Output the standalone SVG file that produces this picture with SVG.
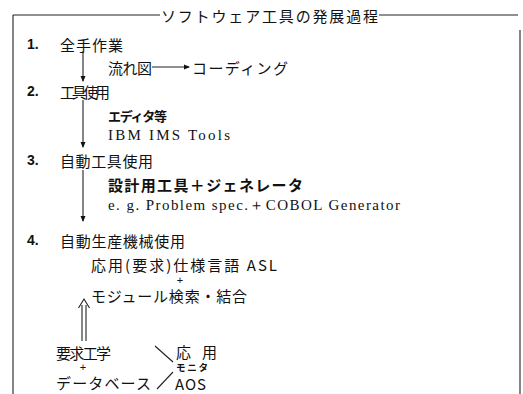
<svg xmlns="http://www.w3.org/2000/svg" width="523" height="394" viewBox="0 0 523 394">
<defs>
<marker id="ah" markerWidth="6" markerHeight="6" refX="5" refY="3" orient="auto" markerUnits="userSpaceOnUse">
<path d="M0,0.5 L6,3 L0,5.5 Z" fill="#111"/>
</marker>
<style>
text{font-family:"Noto Sans CJK JP","Liberation Sans",sans-serif;fill:#111;dominant-baseline:central}
.t{font-size:15px}
.n{font-family:"Liberation Sans",sans-serif;font-size:14px;font-weight:bold}
.s{font-family:"Liberation Serif",serif;font-size:15px}
.b{font-weight:bold}
.p{font-family:"Liberation Sans",sans-serif;font-size:11px}
.ln{stroke:#222;stroke-width:1.1;fill:none}
</style>
</defs>
<rect width="523" height="394" fill="#fff"/>
<g id="frame">
<line class="ln" x1="13" y1="15" x2="160" y2="15"/>
<line class="ln" x1="379" y1="15" x2="518" y2="15"/>
<line class="ln" x1="13" y1="15" x2="13" y2="394" stroke-width="0.9"/>
<line class="ln" x1="520" y1="30" x2="520" y2="394" stroke-width="0.9"/>
<text id="title" x="161" y="15" class="t" textLength="217" lengthAdjust="spacing">ソフトウェア工具の発展過程</text>
</g>
<g id="step1">
<text x="27" y="44" class="n">1.</text>
<text x="60" y="44" class="t" textLength="63" lengthAdjust="spacing">全手作業</text>
</g>
<g id="flow">
<text x="108" y="67" class="t" textLength="44" lengthAdjust="spacing">流れ図</text>
<text x="192" y="67" class="t" textLength="96" lengthAdjust="spacing">コーディング</text>
</g>
<g id="step2">
<text x="27" y="91" class="n">2.</text>
<text x="60" y="91" class="t" textLength="50" lengthAdjust="spacing">工具使用</text>
</g>
<g id="tools2">
<text x="108" y="115" class="b" font-size="13" textLength="59" lengthAdjust="spacing">エディタ等</text>
<text x="108" y="135" class="s" textLength="122" lengthAdjust="spacing">IBM IMS Tools</text>
</g>
<g id="step3">
<text x="27" y="160" class="n">3.</text>
<text x="60" y="160" class="t" textLength="93" lengthAdjust="spacing">自動工具使用</text>
</g>
<g id="tools3">
<text x="108" y="184" class="t b" textLength="195" lengthAdjust="spacing">設計用工具＋ジェネレータ</text>
<text x="108" y="205" class="s" textLength="292" lengthAdjust="spacing">e. g. Problem spec.＋COBOL Generator</text>
</g>
<g id="step4">
<text x="27" y="240" class="n">4.</text>
<text x="60" y="240" class="t" textLength="125" lengthAdjust="spacing">自動生産機械使用</text>
</g>
<g id="asl">
<text x="91" y="264" class="t" textLength="186" lengthAdjust="spacing">応用(要求)仕様言語 ASL</text>
<text x="180" y="280" class="p" text-anchor="middle">+</text>
<text x="91" y="295" class="t" textLength="156" lengthAdjust="spacing">モジュール検索・結合</text>
</g>
<g id="base">
<text x="56" y="352" class="t" textLength="55" lengthAdjust="spacing">要求工学</text>
<text x="83" y="367" class="p" text-anchor="middle">+</text>
<text x="56" y="382" class="t" textLength="95" lengthAdjust="spacing">データベース</text>
</g>
<g id="aos">
<text x="176" y="351" class="t" textLength="41" lengthAdjust="spacing">応 用</text>
<text x="176" y="367" font-size="9.5" class="b" textLength="32" lengthAdjust="spacing">モニタ</text>
<text x="175" y="383" font-family="Liberation Sans" font-size="15" textLength="31" lengthAdjust="spacing">AOS</text>
</g>
<g id="connectors">
<line class="ln" x1="83" y1="51" x2="83" y2="81" marker-end="url(#ah)"/>
<line class="ln" x1="152" y1="67" x2="189" y2="67" marker-end="url(#ah)"/>
<line class="ln" x1="83" y1="100" x2="83" y2="147" marker-end="url(#ah)"/>
<line class="ln" x1="83" y1="170" x2="83" y2="221" marker-end="url(#ah)"/>
<line class="ln" x1="82" y1="341" x2="82" y2="305"/>
<line class="ln" x1="86" y1="341" x2="86" y2="305"/>
<path class="ln" d="M78.5,308 L84,299 L89.5,308"/>
<line class="ln" x1="155" y1="346" x2="173" y2="362"/>
<line class="ln" x1="157" y1="389" x2="173" y2="372"/>
</g>
</svg>
